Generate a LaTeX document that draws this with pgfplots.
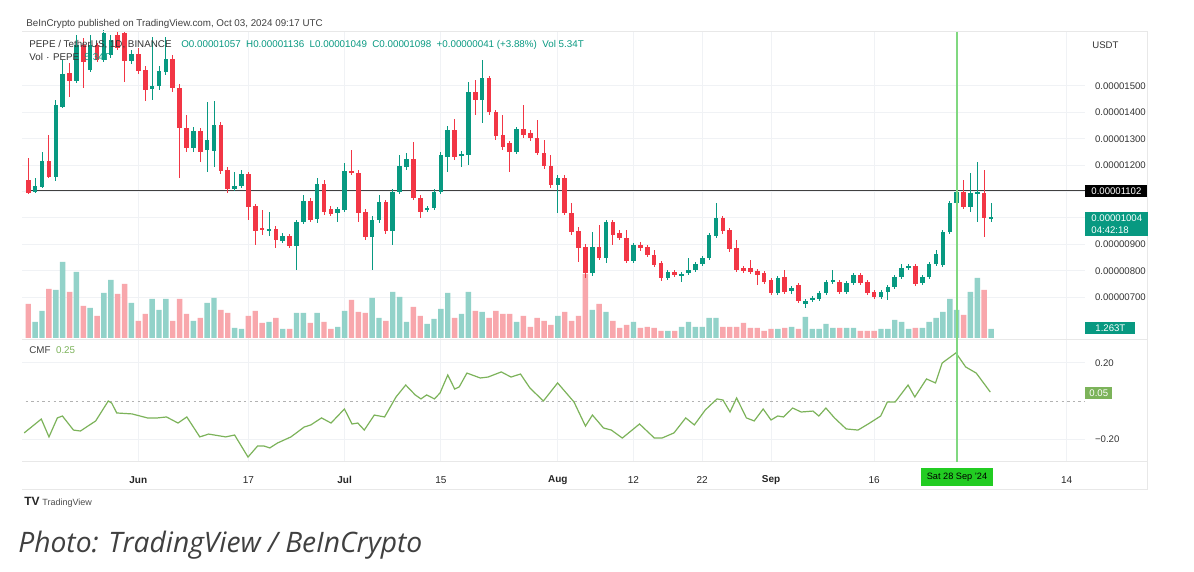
\documentclass[border=0pt]{standalone}
\usepackage{pgfplots}
\pgfplotsset{compat=1.18}
\usepackage{pgfplotstable}
\usepackage{fontspec}
\setmainfont{Liberation Sans}
\newfontfamily\capfont{Open Sans}

\definecolor{up}{HTML}{089981}
\definecolor{dn}{HTML}{F23645}
\definecolor{upv}{HTML}{92D2C9}
\definecolor{dnv}{HTML}{F8A7AC}
\definecolor{gridc}{HTML}{F0F2F5}
\definecolor{cmf}{HTML}{7CB35A}
\definecolor{cross}{HTML}{80D880}
\definecolor{crossbox}{HTML}{22CC22}

% daily candles, PEPE/USDT (prices in chart units, volume in chart units)
\pgfplotstableread{
d O H L C V
-16 148 162 147 154 16
-15 153 188 152 179 27
-13 163 240 159 235 48
-12 233 280 232 266 76
-10 259 305 257 295 66
-8 270 305 268 295 30
-6 280 310 278 307 45
-5 285 305 282 300 58
-2 279 290 276 286 35
1 251 303 240 254 39
2 254 274 250 269 28
3 268 303 265 281 39
7 192 213 188 209 17
9 190 238 168 200 35
10 189 239 173 215 40
13 151 168 149 154 10
14 154 170 152 166 9
18 109 128 104 111 16
20 99 107 97 104 9
22 94 120 70 118 25
23 118 145 116 139 25
25 121 162 117 156 25
28 127 133 118 131 11
29 130 177 128 169 27
33 103 124 70 120 40
34 120 145 117 138 20
36 109 151 95 148 46
37 148 185 146 174 41
38 173 187 170 181 16
41 130 134 128 132 14
42 132 151 130 148 19
43 148 188 146 185 29
44 183 214 168 210 45
46 184 189 173 186 24
47 185 258 175 248 46
49 240 280 217 262 26
54 188 213 186 211 16
60 155 165 127 162 22
65 67 108 64 93 28
67 82 120 77 118 26
71 79 97 77 95 16
76 62 70 60 68 7
78 64 68 58 66 11
79 67 82 65 70 16
80 70 78 68 76 11
81 76 84 74 82 11
82 82 107 80 105 20
83 104 137 102 122 20
92 47 64 45 62 9
94 49 54 46 52 11
96 36 41 32 39 21
97 40 44 38 42 9
98 41 49 39 47 9
99 47 60 45 58 14
100 58 70 56 60 10
102 48 59 46 57 10
103 57 67 55 65 10
107 43 50 41 48 9
108 48 55 40 53 9
109 53 65 51 63 18
110 63 76 61 72 16
111 72 76 70 74 9
113 57 65 55 63 10
114 63 78 61 76 16
115 76 90 74 86 20
116 75 110 73 108 26
117 108 139 106 137 39
118 137 158 135 148 28
120 133 167 128 147 46
121 146 178 118 148 60
123 121 137 118 123 9
}\upc

\pgfplotstableread{
d O H L C V
-17 160 182 146 147 34
-14 179 205 162 163 49
-11 267 277 243 259 46
-9 295 302 252 278 32
-7 295 297 278 280 22
-4 305 308 290 292 44
-3 307 309 258 279 54
-1 286 292 266 269 17
0 270 274 239 250 24
4 281 285 248 252 17
5 252 256 162 212 39
6 212 225 188 192 24
8 209 212 178 188 20
11 215 218 166 169 28
12 170 173 147 151 25
15 166 168 120 133 22
16 134 136 95 109 27
17 112 130 105 110 15
19 111 114 92 100 20
21 104 106 92 94 9
24 139 142 118 120 15
26 156 160 125 128 16
27 131 134 124 126 9
30 169 190 165 167 38
31 167 170 118 127 26
32 128 131 100 103 25
35 138 140 106 109 17
39 181 198 140 142 31
40 142 145 122 128 22
45 210 221 180 183 20
48 248 260 225 240 27
50 262 264 225 228 20
51 228 230 200 204 27
52 205 225 190 193 24
53 197 199 168 188 24
55 211 235 202 205 22
56 207 210 199 202 11
57 202 220 185 187 20
58 187 200 171 174 17
59 174 185 152 155 13
61 162 165 125 127 26
62 127 137 105 108 17
63 109 113 78 92 22
64 93 96 62 67 64
66 93 115 80 82 34
68 118 120 95 105 17
69 107 110 100 102 10
70 102 110 77 79 13
72 95 98 89 92 10
73 93 95 83 85 11
74 85 90 73 75 10
75 77 79 59 62 7
77 68 70 63 65 7
84 122 124 106 109 11
85 110 112 88 91 11
86 92 100 68 70 11
87 72 74 67 69 15
88 72 80 66 68 10
89 69 71 55 65 10
90 67 69 56 58 7
91 60 62 45 47 9
93 63 70 46 48 10
95 55 57 37 39 9
101 58 60 46 48 10
104 65 67 55 57 7
105 58 60 45 47 7
106 48 50 41 43 7
112 74 76 54 56 10
119 148 160 131 133 23
122 147 170 103 122 48
}\dnc

% Chaikin Money Flow
\pgfplotstableread{
x v
-17.6 -0.168
-15.11 -0.095
-13.99 -0.189
-12.77 -0.089
-12.04 -0.079
-10.43 -0.153
-9.42 -0.158
-7.20 -0.105
-5.37 0.000
-4.87 -0.011
-4.14 -0.063
-1.92 -0.068
0.31 -0.089
1.82 -0.089
3.10 -0.084
4.77 -0.116
6.05 -0.084
7.94 -0.189
9.22 -0.174
11.72 -0.189
13.00 -0.179
14.95 -0.295
16.34 -0.237
17.27 -0.237
18.12 -0.247
19.24 -0.221
21.19 -0.189
23.12 -0.137
24.08 -0.126
25.64 -0.089
27.02 -0.116
28.97 -0.042
30.07 -0.121
30.91 -0.116
31.86 -0.153
33.31 -0.074
34.81 -0.084
36.47 0.021
37.88 0.084
39.26 0.032
40.10 0.011
40.93 0.032
42.05 0.011
42.87 0.042
44.00 0.137
45.00 0.063
45.66 0.074
46.78 0.147
48.73 0.121
49.85 0.126
51.78 0.153
53.19 0.126
54.57 0.142
55.95 0.068
57.90 0.000
59.97 0.095
62.35 -0.005
64.02 -0.132
65.03 -0.074
66.64 -0.142
67.78 -0.153
69.38 -0.195
71.88 -0.121
74.04 -0.195
75.15 -0.195
76.89 -0.168
78.60 -0.089
79.85 -0.126
81.45 -0.047
83.15 0.011
84.02 0.005
85.04 -0.058
86.00 0.016
87.42 -0.089
88.56 -0.105
89.86 -0.042
91.00 -0.100
91.97 -0.079
92.83 -0.084
94.14 -0.037
95.39 -0.058
97.10 -0.053
97.95 -0.079
98.98 -0.037
100.23 -0.089
101.93 -0.147
103.65 -0.153
105.35 -0.116
106.95 -0.079
107.92 -0.005
109.06 -0.005
110.93 0.084
111.91 0.021
113.61 0.116
114.92 0.095
115.89 0.200
117.89 0.253
119.31 0.179
120.84 0.147
122.89 0.047
}\cmfdata

\pgfplotsset{
  tvpane/.style={
    anchor=south west, scale only axis, width=531.5pt,
    xmin=-17.915, xmax=136.66,
    axis line style={draw=none}, tick style={draw=none},
    grid style={gridc, line width=0.5pt},
  },
  candle/.style 2 args={
    draw=none, mark=none,
    error bars/.cd, y dir=plus, y explicit, error mark=none,
    error bar style={draw=#1, solid, line width=#2},
  },
}

\begin{document}
\begin{tikzpicture}
\path[use as bounding box, fill=white] (0,0) rectangle (597pt,286pt);

% price pane: grid and price scale
\begin{axis}[tvpane, at={(11pt,116pt)}, height=154pt,
  ymin=0, ymax=308,
  xtick={-1,15,29,43,60,71,81,91,106,134}, xticklabels={},
  ytick={42.8,69.2,95.6,122,148.4,174.8,201.2,227.6,254},
  yticklabels={0.00000700,0.00000800,0.00000900,,,0.00001200,0.00001300,0.00001400,0.00001500},
  xmajorgrids, ymajorgrids,
  yticklabel pos=right,
  yticklabel style={font=\fontsize{4.8}{5}\selectfont, text=black!80, xshift=1.5pt},
]
\end{axis}

% volume overlay
\begin{axis}[tvpane, at={(11pt,116pt)}, height=154pt,
  ymin=-2, ymax=306, hide axis, ybar, bar width=2.7pt, bar shift=0pt]
\addplot[fill=upv, draw=none] table[x=d, y=V] {\upc};
\addplot[fill=dnv, draw=none] table[x=d, y=V] {\dnc};
\end{axis}

% candles
\begin{axis}[tvpane, at={(11pt,116pt)}, height=154pt,
  ymin=0, ymax=308, hide axis, clip=false]
\addplot[black!75, line width=0.5pt] coordinates {(-17.4,149) (136.66,149)};
\addplot[candle={up}{0.45pt}] table[x=d, y=L, y error plus expr=\thisrow{H}-\thisrow{L}] {\upc};
\addplot[candle={dn}{0.45pt}] table[x=d, y=L, y error plus expr=\thisrow{H}-\thisrow{L}] {\dnc};
\addplot[candle={up}{2.3pt}] table[x=d, y=O, y error plus expr=\thisrow{C}-\thisrow{O}] {\upc};
\addplot[candle={dn}{2.3pt}] table[x=d, y=C, y error plus expr=\thisrow{O}-\thisrow{C}] {\dnc};
\end{axis}

% CMF pane with time scale
\begin{axis}[tvpane, at={(11pt,55pt)}, height=61pt,
  ymin=-0.321, ymax=0.321,
  xtick={-1,15,29,43,60,71,81,91,106,134},
  xticklabels={\textbf{Jun},17,\textbf{Jul},15,\textbf{Aug},12,22,\textbf{Sep},16,14},
  xticklabel style={font=\fontsize{5}{6}\selectfont, text=black!85, anchor=center, yshift=-9pt},
  ytick={-0.2,0.2}, yticklabels={−0.20,0.20},
  yticklabel pos=right,
  yticklabel style={font=\fontsize{4.8}{5}\selectfont, text=black!80, xshift=1.5pt},
  xmajorgrids, ymajorgrids,
]
\addplot[gray!60, line width=0.4pt, dash pattern=on 1.2pt off 1.6pt] coordinates {(-17.4,0) (136.66,0)};
\addplot[cmf, line width=0.6pt] table[x=x, y=v] {\cmfdata};
\end{axis}

% chart chrome, in reference pixel units
\begin{scope}[x=0.5pt, y=-0.5pt, yshift=286pt]
\draw[gray!18, line width=0.5pt] (22,32) -- (1147,32) -- (1147,490) -- (22,490);
\draw[gray!18, line width=0.5pt] (22,340) -- (1147,340);
\draw[gray!18, line width=0.5pt] (22,462) -- (1147,462);
\draw[cross, line width=0.9pt] (957,32) -- (957,462);
\node[fill=crossbox, minimum width=36pt, minimum height=9pt, inner sep=0pt,
  font=\fontsize{4.6}{5}\selectfont] at (957,477) {Sat 28 Sep '24};

\node[anchor=west, font=\fontsize{4.9}{5}\selectfont, text=black!75, inner sep=0pt] at (26,24)
  {BeInCrypto published on TradingView.com, Oct 03, 2024 09:17 UTC};
\node[anchor=west, font=\fontsize{4.9}{5}\selectfont, text=black!80, inner sep=0pt] at (29,45)
  {PEPE / TetherUS, 1D, BINANCE\quad\textcolor{up}{O0.00001057 \ H0.00001136 \ L0.00001049 \ C0.00001098 \ +0.00000041 (+3.88\%) \ Vol 5.34T}};
\node[anchor=west, font=\fontsize{4.9}{5}\selectfont, text=black!80, inner sep=0pt] at (29,57)
  {Vol $\cdot$ PEPE \ \textcolor{up}{5.34T}};
\node[anchor=west, font=\fontsize{4.9}{5}\selectfont, text=black!75, inner sep=0pt] at (29,350)
  {CMF \ \textcolor{cmf}{0.25}};

\node[anchor=west, font=\fontsize{4.8}{5}\selectfont, text=black!80, inner sep=0pt] at (1092,45) {USDT};
\node[anchor=west, fill=black, text=white, inner xsep=3pt, inner ysep=1.2pt, minimum width=29pt,
  font=\fontsize{4.8}{5}\selectfont] at (1085,191) {0.00001102};
\node[anchor=north west, fill=up, text=white, inner xsep=3pt, inner ysep=1.2pt, minimum width=29pt,
  align=left, font=\fontsize{4.8}{5.8}\selectfont] at (1085,212) {0.00001004\\04:42:18};
\node[anchor=west, fill=up, text=white, inner xsep=3pt, inner ysep=1.2pt, minimum width=25pt,
  font=\fontsize{4.8}{5}\selectfont] at (1085,328) {1.263T};
\node[anchor=west, fill=cmf, text=white, inner xsep=2pt, inner ysep=1.2pt,
  font=\fontsize{4.8}{5}\selectfont] at (1085,393) {0.05};

\node[anchor=base west, inner sep=0pt, font=\bfseries\fontsize{6}{6}\selectfont, text=black!85] at (24,506) {TV};
\node[anchor=base west, inner sep=0pt, font=\fontsize{4.5}{5}\selectfont, text=black!70] at (42,506) {TradingView};
\node[anchor=base west, inner sep=0pt, font=\capfont\itshape\fontsize{14.1}{14}\selectfont, text=black!75]
  at (18,553) {Photo: TradingView / BeInCrypto};
\end{scope}
\end{tikzpicture}
\end{document}
